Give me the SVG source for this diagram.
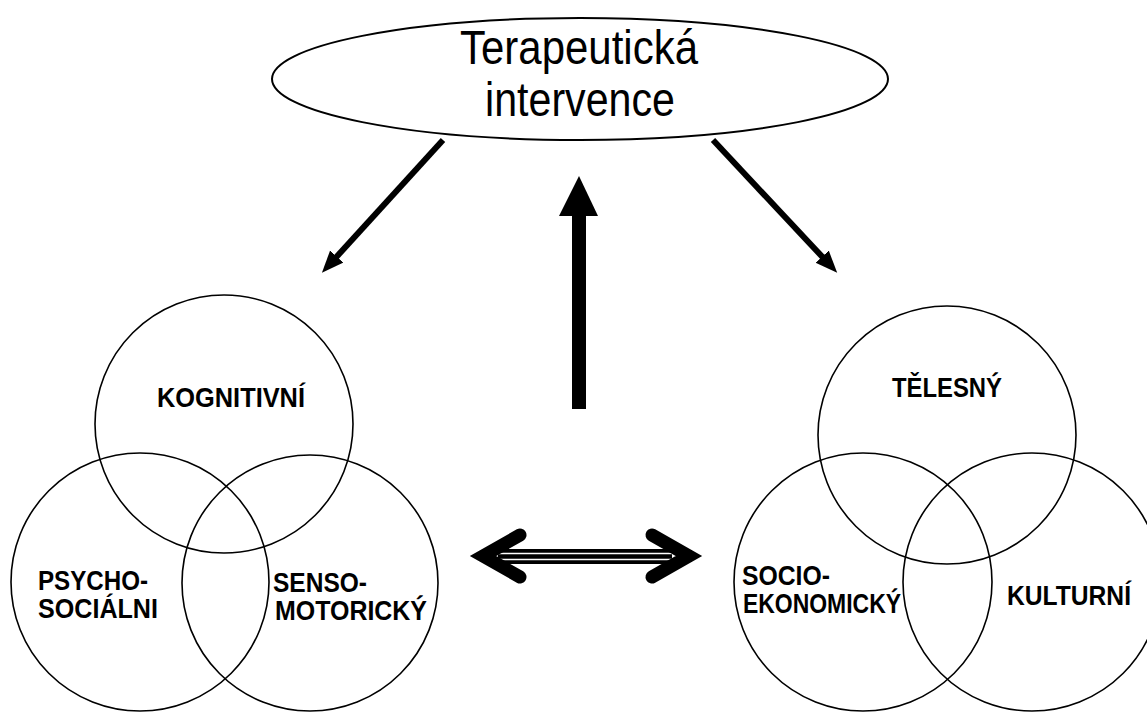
<svg xmlns="http://www.w3.org/2000/svg" width="1147" height="713" viewBox="0 0 1147 713">
<style>
.c{fill:none;stroke:#000;stroke-width:1.6}
.lbl{font-family:"Liberation Sans",Arial,sans-serif;font-weight:bold;font-size:27px;fill:#000}
.title{font-family:"Liberation Sans",Arial,sans-serif;font-size:48px;fill:#000}
.diag{stroke:#000;stroke-width:6;fill:none}
.chev{fill:none;stroke:#000;stroke-width:13;stroke-linecap:round;stroke-linejoin:miter}
</style>
<defs>
<marker id="ah" markerUnits="userSpaceOnUse" markerWidth="24" markerHeight="20" refX="10" refY="9" orient="auto">
<path d="M0,0 L22,9 L0,18 z" fill="#000"/>
</marker>
</defs>
<rect width="1147" height="713" fill="#fff"/>
<g id="intervence">
<ellipse cx="580" cy="79" rx="308" ry="61" fill="none" stroke="#000" stroke-width="2"/>
<text class="title" x="460" y="64" textLength="238" lengthAdjust="spacingAndGlyphs">Terapeutická</text>
<text class="title" x="485" y="116" textLength="190" lengthAdjust="spacingAndGlyphs">intervence</text>
</g>
<g id="venn-left">
<circle class="c" cx="224" cy="424" r="129"/>
<circle class="c" cx="140" cy="582" r="129"/>
<circle class="c" cx="310" cy="583" r="128"/>
<text class="lbl" x="157" y="407" textLength="148" lengthAdjust="spacingAndGlyphs">KOGNITIVNÍ</text>
<text class="lbl" x="38" y="590" textLength="110" lengthAdjust="spacingAndGlyphs">PSYCHO-</text>
<text class="lbl" x="38" y="618" textLength="120" lengthAdjust="spacingAndGlyphs">SOCIÁLNI</text>
<text class="lbl" x="273" y="592" textLength="94" lengthAdjust="spacingAndGlyphs">SENSO-</text>
<text class="lbl" x="275" y="620" textLength="152" lengthAdjust="spacingAndGlyphs">MOTORICKÝ</text>
</g>
<g id="venn-right">
<circle class="c" cx="947" cy="435" r="129"/>
<circle class="c" cx="863" cy="582" r="129"/>
<circle class="c" cx="1032" cy="582" r="129"/>
<text class="lbl" x="892" y="397" textLength="110" lengthAdjust="spacingAndGlyphs">TĚLESNÝ</text>
<text class="lbl" x="742" y="585" textLength="88" lengthAdjust="spacingAndGlyphs">SOCIO-</text>
<text class="lbl" x="743" y="613" textLength="158" lengthAdjust="spacingAndGlyphs">EKONOMICKÝ</text>
<text class="lbl" x="1007" y="605" textLength="124" lengthAdjust="spacingAndGlyphs">KULTURNÍ</text>
</g>
<g id="connectors">
<line class="diag" x1="443" y1="140" x2="330" y2="264" marker-end="url(#ah)"/>
<line class="diag" x1="713" y1="140" x2="829" y2="264" marker-end="url(#ah)"/>
<rect x="572" y="214" width="14" height="195" fill="#000"/>
<polygon points="579,176 598,216 559,216" fill="#000"/>
<rect x="498" y="549" width="174" height="15" fill="#000"/>
<line x1="498" y1="553.5" x2="672" y2="553.5" stroke="#fff" stroke-width="1.6"/>
<line x1="498" y1="559.5" x2="672" y2="559.5" stroke="#fff" stroke-width="1.6"/>
<polyline class="chev" points="520,535 483,556 520,577"/>
<polyline class="chev" points="652,535 689,556 652,577"/>
</g>
</svg>
